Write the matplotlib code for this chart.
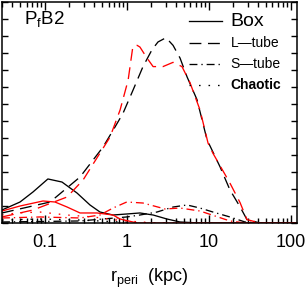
import numpy as np
import matplotlib
matplotlib.use("Agg")
import matplotlib.pyplot as plt
from matplotlib.lines import Line2D
from matplotlib.ticker import FixedLocator, FixedFormatter, LogLocator, NullFormatter, MultipleLocator

plt.rcParams["font.family"] = ["Liberation Sans", "DejaVu Sans"]
plt.rcParams["mathtext.fontset"] = "custom"
plt.rcParams["mathtext.rm"] = "Liberation Sans"

# pericentre distance (kpc) and fraction of orbits
box_k_r = [0.030, 0.0498, 0.0717, 0.109, 0.162, 0.247, 0.356, 0.472, 0.68, 1.0, 1.45, 2.10, 3.10, 4.48, 7.85, 120]
box_k_f = [0.0153, 0.0247, 0.0365, 0.0518, 0.0482, 0.0353, 0.0212, 0.0129, 0.0094, 0.0106, 0.0118, 0.0094, 0.0047, 0.0012, 0.0, 0.0]
box_r_r = [0.030, 0.0498, 0.095, 0.133, 0.187, 0.269, 0.434, 0.68, 0.83, 1.34, 120]
box_r_f = [0.0141, 0.0200, 0.0259, 0.0247, 0.0188, 0.0118, 0.0118, 0.0094, 0.0047, 0.0, 0.0]

ltube_k_r = [0.030, 0.116, 0.269, 0.514, 0.72, 0.90, 1.19, 1.58, 2.04, 2.41, 3.02, 3.68, 4.48, 5.45, 7.22, 9.56, 13.8, 18.2, 24.2, 29.4, 42.4, 120]
ltube_k_f = [0.0118, 0.0247, 0.0541, 0.0894, 0.113, 0.129, 0.156, 0.184, 0.204, 0.213, 0.218, 0.209, 0.194, 0.172, 0.145, 0.098, 0.066, 0.039, 0.019, 0.004, 0.0, 0.0]
ltube_r_r = [0.030, 0.0717, 0.187, 0.293, 0.625, 0.83, 1.04, 1.19, 1.34, 1.45, 1.77, 2.10, 2.77, 3.68, 4.73, 5.93, 7.85, 9.84, 11.3, 18.2, 24.2, 29.4, 42.4, 120]
ltube_r_f = [0.0071, 0.0153, 0.0306, 0.0506, 0.101, 0.133, 0.168, 0.208, 0.209, 0.207, 0.194, 0.184, 0.184, 0.189, 0.184, 0.165, 0.133, 0.094, 0.082, 0.047, 0.024, 0.004, 0.0, 0.0]

stube_k_r = [0.030, 0.269, 1.0, 1.45, 2.34, 3.68, 5.45, 7.85, 11.3, 18.2, 27.8, 42.4, 120]
stube_k_f = [0.0012, 0.0024, 0.0071, 0.0094, 0.0129, 0.0188, 0.0212, 0.0176, 0.0129, 0.0071, 0.0012, 0.0, 0.0]
stube_r_r = [0.030, 0.0874, 0.269, 0.472, 0.68, 1.0, 1.58, 2.94, 4.48, 7.85, 12.0, 18.2, 27.8, 120]
stube_r_f = [0.0059, 0.0071, 0.0059, 0.0094, 0.0176, 0.0247, 0.0235, 0.0165, 0.0176, 0.0141, 0.0082, 0.0024, 0.0, 0.0]

chaos_k_r = [0.030, 0.0874, 0.269, 0.83, 1.9, 120]
chaos_k_f = [0.0035, 0.0047, 0.0035, 0.0012, 0.0, 0.0]
chaos_r_r = [0.030, 0.0458, 0.0874, 0.187, 0.388, 0.76, 1.45, 2.55, 120]
chaos_r_f = [0.0094, 0.0118, 0.0129, 0.0094, 0.0071, 0.0035, 0.0012, 0.0, 0.0]

xticks = [0.1, 1, 10, 100]
xticklabels = ["0.1", "1", "10", "100"]
names = ["Box", "L\u2014tube", "S\u2014tube", "Chaotic"]

DASH = (9, 5)
DASHDOT = (6, 3, 1, 3)
DOT = (1.2, 6)
LW = 0.95

fig = plt.figure(figsize=(3.06, 2.91), dpi=100)
ax = fig.add_axes([2 / 306, 68 / 291, 295 / 306, 221 / 291])

for col, sets in [("black", [(box_k_r, box_k_f, None), (ltube_k_r, ltube_k_f, DASH),
                             (stube_k_r, stube_k_f, DASHDOT), (chaos_k_r, chaos_k_f, DOT)]),
                  ("red", [(box_r_r, box_r_f, None), (ltube_r_r, ltube_r_f, DASH),
                           (stube_r_r, stube_r_f, DASHDOT), (chaos_r_r, chaos_r_f, DOT)])]:
    for r, f, d in sets:
        ln, = ax.plot(r, f, color=col, lw=LW)
        if d is not None:
            ln.set_dashes(d)

ax.set_xscale("log")
ax.set_xlim(0.03, 120)
ax.set_ylim(0, 0.26)
ax.xaxis.set_major_locator(FixedLocator(xticks))
ax.xaxis.set_major_formatter(FixedFormatter(xticklabels))
ax.xaxis.set_minor_locator(LogLocator(base=10, subs=np.arange(2, 10)))
ax.xaxis.set_minor_formatter(NullFormatter())
ax.yaxis.set_major_locator(MultipleLocator(0.02))
ax.set_yticklabels([])
ax.tick_params(axis="x", which="major", direction="in", top=True, length=6, width=1, labelsize=13, pad=8)
ax.tick_params(axis="x", which="minor", direction="in", top=True, length=3.5, width=1)
ax.tick_params(axis="y", which="major", direction="in", right=True, length=4, width=1)
for s in ax.spines.values():
    s.set_linewidth(1.1)

ax.set_xlabel("r$\\mathregular{_{peri}}$  (kpc)", fontsize=13, labelpad=11)
ax.text(0.075, 0.925, "P$\\mathregular{_f}$B2", transform=ax.transAxes, fontsize=13.5, va="center", ha="left")

handles = [Line2D([], [], color="black", lw=LW)]
for d in (DASH, DASHDOT, DOT):
    h = Line2D([], [], color="black", lw=LW)
    h.set_dashes(d)
    handles.append(h)
leg = ax.legend(handles, names, loc="upper right", frameon=False, fontsize=10,
                handlelength=2.4, handletextpad=0.6, labelspacing=0.5,
                borderaxespad=0.2, bbox_to_anchor=(0.975, 0.99))
txt = leg.get_texts()
txt[0].set_fontsize(14)
txt[3].set_fontweight("bold")

fig.savefig("out.png", dpi=100)
